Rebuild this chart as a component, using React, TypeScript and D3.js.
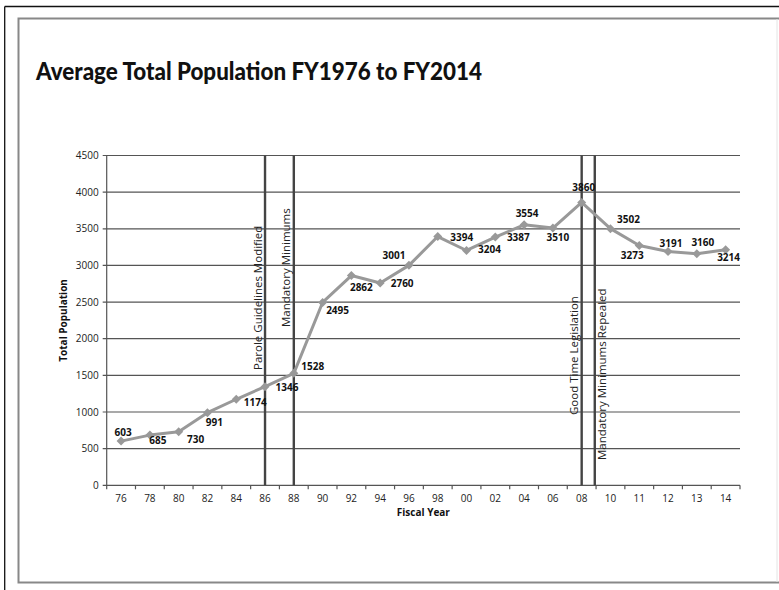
import React from "react";
import * as d3 from "d3";

const categories = ["76","78","80","82","84","86","88","90","92","94","96","98","00","02","04","06","08","10","11","12","13","14"];
const population = [603,685,730,991,1174,1346,1528,2495,2862,2760,3001,3394,3204,3387,3554,3510,3860,3502,3273,3191,3160,3214];
const yTicks = [0,500,1000,1500,2000,2500,3000,3500,4000,4500];
const events = [
  { label: "Parole Guidelines Modified", at: "86", shift: 0, side: "left", bottom: 370 },
  { label: "Mandatory Minimums", at: "88", shift: 0, side: "left", bottom: 327 },
  { label: "Good Time Legislation", at: "08", shift: 0, side: "left", bottom: 415 },
  { label: "Mandatory Minimums Repealed", at: "08", shift: 0.455, side: "right", bottom: 460 },
];
// label placement offsets (dx of label center, dy of baseline) relative to each point
const labelOffsets: [number, number][] = [
  [2,-5],[8,9],[17,11],[7,13],[19,7],[22,4],[19,-3],[15,12],[10,15],[22,4],
  [-15,-6],[24,4],[23,3],[23,4],[3,-8],[5,13],[2,-11],[18,-6],[-7,14],[3,-4],[6,-8],[3,11]
];

const W = 779, H = 590;
const left = 106.7, right = 740, top = 155.5, bottom = 485.3;

export default function App() {
  const x = d3.scaleBand<string>().domain(categories).range([left, right]).paddingInner(0).paddingOuter(0);
  const y = d3.scaleLinear().domain([0, 4500]).range([bottom, top]);
  const cx = (c: string) => (x(c) as number) + x.bandwidth() / 2;
  const pts = categories.map((c, i) => [cx(c), y(population[i])] as [number, number]);
  const line = d3.line()(pts) as string;
  const font = "'Open Sans', 'Liberation Sans', sans-serif";
  const step = x.step();
  const boundaries = d3.range(categories.length + 1).map(i => left + i * step);
  return (
    <svg width={W} height={H} style={{ position: "absolute", left: 0, top: 0, background: "#fff" }} fontFamily={font}>
      <rect x={0} y={0} width={W} height={H} fill="#fff" />
      {/* outer frame */}
      <line x1={4.7} y1={6.5} x2={4.7} y2={H} stroke="#111" strokeWidth={1.3} />
      <line x1={4.7} y1={6.5} x2={W} y2={6.5} stroke="#111" strokeWidth={1.3} />
      <rect x={18.5} y={18.5} width={W} height={564} fill="none" stroke="#888" strokeWidth={2} />
      <line x1={777} y1={19} x2={777} y2={582} stroke="#e4e4e4" strokeWidth={1} />
      {/* title */}
      <text x={36} y={80} fontFamily="Lato, 'Open Sans', sans-serif" fontWeight={900} fontSize={25} textLength={446} lengthAdjust="spacingAndGlyphs" fill="#111">
        Average Total Population FY1976 to FY2014
      </text>
      {/* gridlines and y ticks */}
      {yTicks.map(t => (
        <g key={t}>
          <line x1={left - 4} x2={right} y1={y(t)} y2={y(t)} stroke="#555" strokeWidth={1.2} />
          <text x={left - 8} y={y(t) + 3.5} textAnchor="end" fontSize={10} fill="#222">{t}</text>
        </g>
      ))}
      {/* y axis line */}
      <line x1={left} x2={left} y1={top} y2={bottom} stroke="#555" strokeWidth={1.2} />
      {/* x ticks */}
      {boundaries.map((b, i) => (
        <line key={i} x1={b} x2={b} y1={bottom} y2={bottom + 4} stroke="#555" strokeWidth={1.2} />
      ))}
      {categories.map(c => (
        <text key={c} x={cx(c)} y={502} textAnchor="middle" fontSize={10} fill="#222">{c}</text>
      ))}
      <text x={(left + right) / 2} y={515.5} textAnchor="middle" fontSize={10} fontWeight={700} fill="#111">Fiscal Year</text>
      <text transform={`translate(67,${(top + bottom) / 2}) rotate(-90)`} textAnchor="middle" fontSize={10} fontWeight={700} fill="#111">Total Population</text>
      {/* event lines */}
      {events.map(e => {
        const ex = cx(e.at) + e.shift * step;
        const tx = e.side === "left" ? ex - 3.5 : ex + 11.5;
        return (
          <g key={e.label}>
            <line x1={ex} x2={ex} y1={top} y2={bottom} stroke="#444" strokeWidth={2.4} />
            <text transform={`translate(${tx},${e.bottom}) rotate(-90)`} fontSize={11.5} fill="#222">{e.label}</text>
          </g>
        );
      })}
      {/* series */}
      <path d={line} fill="none" stroke="#999" strokeWidth={3} strokeLinejoin="round" />
      {pts.map(([px, py], i) => (
        <path key={i} d={`M${px},${py - 4.5}L${px + 4.5},${py}L${px},${py + 4.5}L${px - 4.5},${py}Z`} fill="#999" />
      ))}
      {pts.map(([px, py], i) => (
        <text key={"l" + i} x={px + labelOffsets[i][0]} y={py + labelOffsets[i][1]} textAnchor="middle" fontSize={10} fontWeight={700} fill="#111">
          {population[i]}
        </text>
      ))}
    </svg>
  );
}
